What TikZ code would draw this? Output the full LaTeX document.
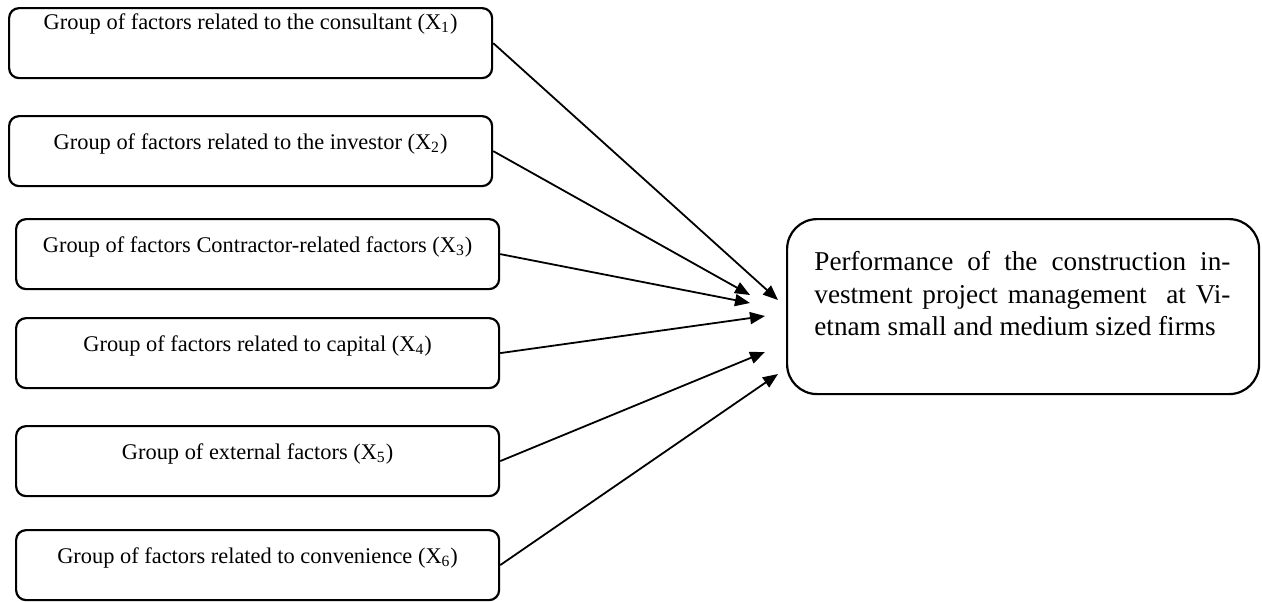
\documentclass[tikz,border=0pt]{standalone}
\usepackage{fontspec}
\setmainfont{Liberation Serif}
\usetikzlibrary{arrows.meta}
\begin{document}
\begin{tikzpicture}[x=0.5pt,y=-0.5pt,
  factor/.style={draw, line width=1.1pt, rounded corners=5pt, inner sep=0pt,
    minimum width=241.5pt, text height=16.5pt, text depth=18.5pt, font=\fontsize{11.2}{13}\selectfont},
  topfactor/.style={factor, text height=10.5pt, text depth=24.5pt},
  bigbox/.style={draw, line width=1.1pt, rounded corners=15pt, inner sep=0pt,
    minimum width=236pt, minimum height=87.5pt},
  bigtext/.style={inner sep=0pt, text width=208pt, align=justify, font=\fontsize{13.6}{16.3}\selectfont},
  link/.style={line width=0.9pt, -{Triangle[length=7.5pt,width=6pt]}}]
\useasboundingbox (0,0) rectangle (1262,601);
\node[topfactor, anchor=north west] (x1) at (8,7) {Group of factors related to the consultant (X\textsubscript{1})};
\node[factor, anchor=north west] (x2) at (8,115) {Group of factors related to the investor (X\textsubscript{2})};
\node[factor, anchor=north west] (x3) at (15,218) {Group of factors Contractor-related factors (X\textsubscript{3})};
\node[factor, anchor=north west] (x4) at (15,317) {Group of factors related to capital (X\textsubscript{4})};
\node[factor, anchor=north west] (x5) at (15,425) {Group of external factors (X\textsubscript{5})};
\node[factor, anchor=north west] (x6) at (15,529) {Group of factors related to convenience (X\textsubscript{6})};
\node[bigbox, anchor=north west] (perf) at (786,218) {};
\node[bigtext, anchor=north west] (perftext) at (814,251) {Performance of the construction in-\linebreak vestment project management\ \ at Vi-\linebreak etnam small and medium sized firms};
\coordinate (t1) at (778,300);
\coordinate (t2) at (750,295);
\coordinate (t3) at (750,303);
\coordinate (t4) at (765,316);
\coordinate (t5) at (765,352);
\coordinate (t6) at (778,374);
\draw[link] (x1.east) -- (t1);
\draw[link] (x2.east) -- (t2);
\draw[link] (x3.east) -- (t3);
\draw[link] (x4.east) -- (t4);
\draw[link] (x5.east) -- (t5);
\draw[link] (x6.east) -- (t6);
\end{tikzpicture}
\end{document}
